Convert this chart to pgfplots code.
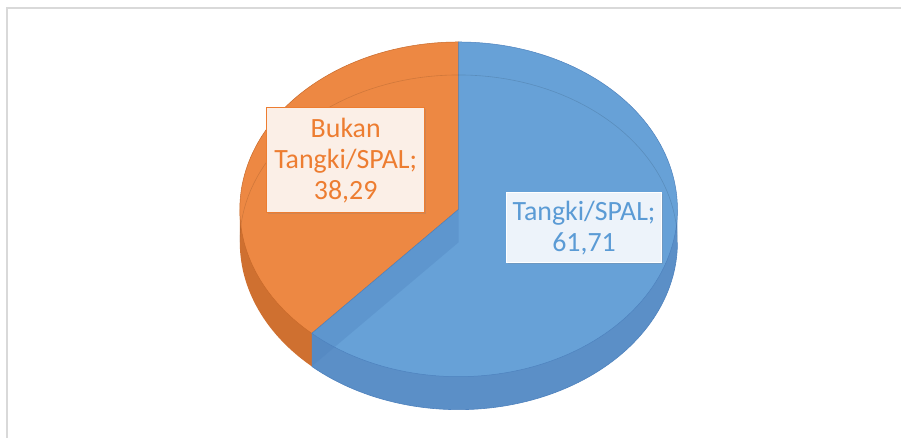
\documentclass[border=0pt]{standalone}
\usepackage{pgfplots}
\pgfplotsset{compat=1.18}
\usepackage{pgfplotstable}
\usepackage{fontspec}
\setmainfont{Carlito}
\usetikzlibrary{shadows}

\pgfplotstableread[col sep=comma]{
label,value
Tangki/SPAL,61.71
Bukan Tangki/SPAL,38.29
}\piedata

\definecolor{topO}{HTML}{ED8843}
\definecolor{topB}{HTML}{67A1D7}
\definecolor{sideO}{HTML}{CF7030}
\definecolor{sideB}{HTML}{5B8FC7}
\definecolor{lineO}{HTML}{C8692A}
\definecolor{lineB}{HTML}{4E82BE}
\definecolor{txtO}{HTML}{ED7D31}
\definecolor{txtB}{HTML}{5B9BD5}
\definecolor{boxO}{HTML}{FBEFE7}
\definecolor{boxB}{HTML}{EDF3FA}
\definecolor{frame}{HTML}{D9D9D9}

\begin{document}
\begin{tikzpicture}
\pgfplotstablegetelem{0}{value}\of\piedata \let\valA\pgfplotsretval
\pgfplotstablegetelem{1}{value}\of\piedata \let\valB\pgfplotsretval
\pgfmathsetmacro\angB{90+3.6*\valB}
\def\cx{459}
\def\cy{228.5}
\def\rx{219}
\def\ry{167.5}
\def\th{33}
\pgfmathsetmacro\ex{\cx+\rx*cos(\angB)}
\pgfmathsetmacro\ey{\cy+\ry*sin(\angB)}
\pgfmathsetmacro\eyb{\ey-\th}
\pgfmathsetmacro\cyb{\cy-\th}
\pgfmathsetmacro\rxr{\cx+\rx}
\pgfmathsetmacro\rxl{\cx-\rx}
\begin{axis}[x=1bp, y=1bp, xmin=0, xmax=902, ymin=0, ymax=438,
  hide axis, clip=false, scale only axis]
  % background and frame
  \fill[white] (axis cs:0,0) rectangle (axis cs:902,438);
  \draw[frame, line width=1.5bp] (axis cs:7,0) -- (axis cs:7,430) -- (axis cs:902,430);

  % side walls (front)
  \addplot[fill=sideO, draw=none, domain=180:\angB, samples=40]
    ({\cx+\rx*cos(x)},{\cyb+\ry*sin(x)}) -- (axis cs:\ex,\ey) -- (axis cs:\rxl,\cy) -- cycle;
  \addplot[fill=sideB, draw=none, domain=\angB:360, samples=80]
    ({\cx+\rx*cos(x)},{\cyb+\ry*sin(x)}) -- (axis cs:\rxr,\cy) -- (axis cs:\ex,\ey) -- cycle;
  \addplot[draw=lineB, line width=0.6pt, domain=\angB:360, samples=80]
    ({\cx+\rx*cos(x)},{\cyb+\ry*sin(x)});

  % top faces
  \addplot[fill=topO, draw=lineO, line width=0.5pt, domain=90:\angB, samples=80]
    ({\cx+\rx*cos(x)},{\cy+\ry*sin(x)}) -- (axis cs:\cx,\cy) -- cycle;
  \addplot[fill=topB, draw=lineB, line width=0.5pt, domain=\angB:450, samples=120]
    ({\cx+\rx*cos(x)},{\cy+\ry*sin(x)}) -- (axis cs:\cx,\cy) -- cycle;

  % faint back bottom edge seen through the slices
  \addplot[draw=black, opacity=0.12, line width=0.6pt, domain=0:180, samples=80]
    ({\cx+\rx*cos(x)},{\cyb+\ry*sin(x)});
  % internal cut face of the blue slice
  \fill[lineB, opacity=0.35] (axis cs:\cx,\cy) -- (axis cs:\ex,\ey) -- (axis cs:\ex,\eyb) -- (axis cs:\cx,\cyb) -- cycle;

  % data labels
  \node[fill=boxO, draw=txtO, line width=1.2pt, text=txtO, align=center,
    minimum width=158bp, minimum height=105bp, inner sep=0pt,
    font=\fontsize{28}{31}\selectfont,
    drop shadow={opacity=0.25, shadow xshift=1.5pt, shadow yshift=-1.5pt}]
    at (axis cs:346,277.5) {Bukan\\Tangki/SPAL;\\38,29};
  \node[fill=boxB, draw=white, line width=0.8pt, text=txtB, align=center,
    minimum width=155bp, minimum height=70bp, inner sep=0pt,
    font=\fontsize{28}{31}\selectfont,
    drop shadow={opacity=0.25, shadow xshift=1.5pt, shadow yshift=-1.5pt}]
    at (axis cs:584.5,210) {Tangki/SPAL;\\61,71};
\end{axis}
\end{tikzpicture}
\end{document}
